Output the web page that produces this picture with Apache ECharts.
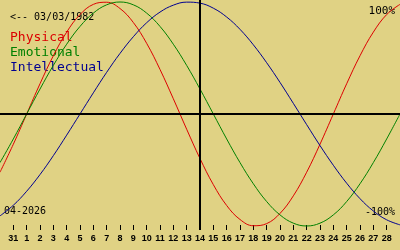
<!DOCTYPE html>
<html>
<head>
<meta charset="utf-8">
<script src="https://cdn.jsdelivr.net/npm/echarts@6/dist/echarts.min.js"></script>
<style>html,body{margin:0;padding:0;background:#e0d284;}#c{width:400px;height:250px;}</style>
</head>
<body>
<div id="c"></div>
<script>
const days = [-1,0,1,2,3,4,5,6,7,8,9,10,11,12,13,14,15,16,17,18,19,20,21,22,23,24,25,26,27,28,29];
const physical = [-0.520,-0.270,0,0.270,0.520,0.731,0.888,0.979,0.998,0.942,0.817,0.631,0.398,0.136,-0.136,-0.398,-0.631,-0.817,-0.942,-0.998,-0.979,-0.888,-0.731,-0.520,-0.270,0,0.270,0.520,0.731,0.888,0.979];
const emotional = [-0.434,-0.223,0,0.223,0.434,0.623,0.782,0.901,0.975,1,0.975,0.901,0.782,0.623,0.434,0.223,0,-0.223,-0.434,-0.623,-0.782,-0.901,-0.975,-1,-0.975,-0.901,-0.782,-0.623,-0.434,-0.223,0];
const intellectual = [-0.910,-0.815,-0.690,-0.541,-0.372,-0.189,0,0.189,0.372,0.541,0.690,0.815,0.910,0.972,0.999,0.990,0.945,0.866,0.756,0.618,0.458,0.282,0.095,-0.095,-0.282,-0.458,-0.618,-0.756,-0.866,-0.945,-0.990];
const tickValues = [0,1,2,3,4,5,6,7,8,9,10,11,12,13,14,15,16,17,18,19,20,21,22,23,24,25,26,27,28];
const tickLabels = ['31','1','2','3','4','5','6','7','8','9','10','11','12','13','14','15','16','17','18','19','20','21','22','23','24','25','26','27','28'];
const todayDay = 14;
const birthText = '<-- 03/03/1982';
const monthText = '04-2026';
const seriesNames = ['Physical','Emotional','Intellectual'];
const seriesColors = ['#dc0000','#008000','#000090'];

const chart = echarts.init(document.getElementById('c'), null, {renderer:'canvas'});
const mono = '"DejaVu Sans Mono", monospace';
function pair(vals){ return days.map((d,i)=>[d, vals[i]]); }
const allVals = [physical, emotional, intellectual];
const series = allVals.map((v,i)=>({
  name: seriesNames[i], type:'line', data: pair(v), smooth:0.4, symbol:'none',
  lineStyle:{color:seriesColors[i], width:1}, silent:true, z:3
}));
series.push({
  type:'line', data:[], silent:true,
  markLine:{
    silent:true, symbol:['none','none'], label:{show:false}, animation:false,
    lineStyle:{color:'#000', width:2, type:'solid'},
    data:[{yAxis:0},{xAxis:todayDay}]
  }
});
chart.setOption({
  backgroundColor:'#e0d284',
  animation:false,
  grid:{left:0,right:0,top:0,bottom:20},
  xAxis:{
    type:'value', min:-1, max:29, position:'bottom',
    axisLine:{show:false, onZero:false}, splitLine:{show:false},
    axisTick:{show:true, inside:true, length:5, customValues:tickValues, lineStyle:{color:'#000',width:1}},
    axisLabel:{show:true, margin:4, customValues:tickValues, color:'#000',
      fontFamily:'"Liberation Sans", Arial, sans-serif', fontWeight:'bold', fontSize:9,
      formatter:(v)=>{const i=tickValues.indexOf(v); return i>=0?tickLabels[i]:'';}}
  },
  yAxis:{type:'value', min:-1.036, max:1.018, show:false, splitLine:{show:false}},
  series: series,
  graphic:[
    {type:'text', left:10, top:12, style:{text:birthText, font:'10px '+mono, fill:'#000'}},
    {type:'text', left:10, top:31, style:{text:seriesNames[0], font:'13px '+mono, fill:seriesColors[0]}},
    {type:'text', left:10, top:46, style:{text:seriesNames[1], font:'13px '+mono, fill:seriesColors[1]}},
    {type:'text', left:10, top:61, style:{text:seriesNames[2], font:'13px '+mono, fill:seriesColors[2]}},
    {type:'text', right:5, top:6, style:{text:'100%', font:'11px '+mono, fill:'#000'}},
    {type:'text', right:5, top:207, style:{text:'-100%', font:'10px '+mono, fill:'#000'}},
    {type:'text', left:4, top:206, style:{text:monthText, font:'10px '+mono, fill:'#000'}}
  ]
});
</script>
</body>
</html>
